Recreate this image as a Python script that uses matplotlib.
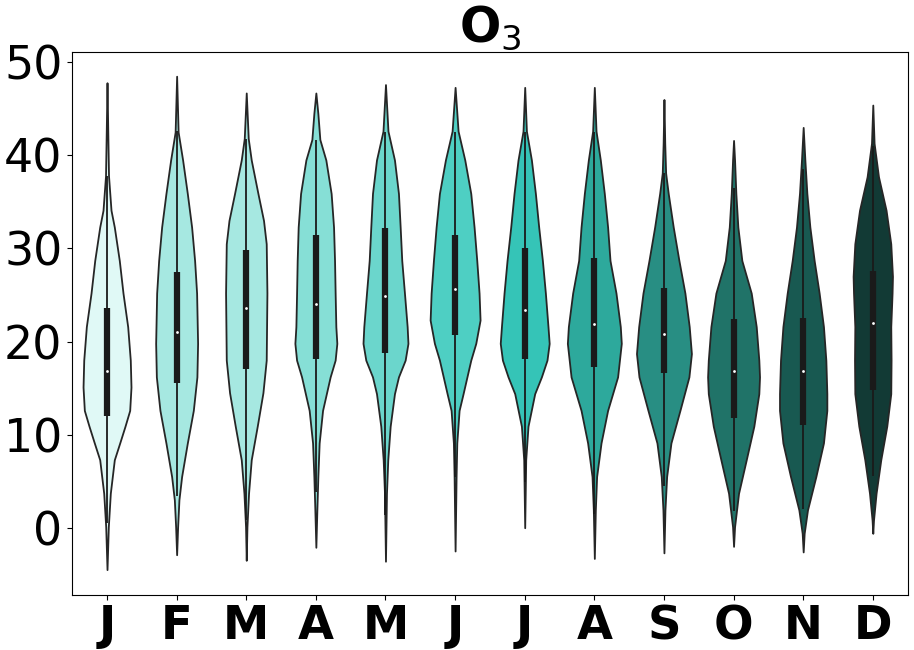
import numpy as np
import matplotlib
matplotlib.use("Agg")
import matplotlib.pyplot as plt

months = ["J", "F", "M", "A", "M", "J", "J", "A", "S", "O", "N", "D"]
colors = ["#e0f9f6", "#a6e8e1", "#a6e8e1", "#86dfd6", "#6bd6cc", "#4ecfc3",
          "#35c4b7", "#2da99c", "#288e83", "#207368", "#185951", "#123a35"]

# O3 levels where the violin outline was read, and half width of the violin there
profile_y = [
    [47.8, 43.0, 37.8, 34.1, 32.3, 28.7, 25.2, 21.6, 18.0, 15.1, 12.6, 10.9, 9.1, 7.3, 3.7, 0.1, -4.5],
    [48.5, 42.5, 39.5, 35.9, 32.3, 28.7, 25.2, 19.8, 16.2, 12.6, 9.1, 5.5, 3.0, 0.1, -2.9],
    [46.7, 41.8, 39.5, 35.9, 33.0, 30.5, 25.2, 18.0, 14.5, 10.9, 7.3, 3.7, 0.1, -3.5],
    [46.7, 44.5, 41.7, 39.5, 35.9, 32.3, 28.7, 25.2, 21.6, 19.8, 18.0, 16.2, 12.6, 9.1, 5.5, 1.9, -2.1],
    [47.6, 42.6, 39.5, 35.9, 32.3, 28.7, 25.2, 21.6, 19.8, 18.0, 16.2, 14.4, 10.9, 7.3, 3.7, -3.6],
    [47.3, 42.6, 39.5, 35.9, 32.3, 28.7, 25.2, 22.3, 19.8, 18.0, 14.4, 12.6, 9.1, 5.5, -2.5],
    [47.3, 42.6, 39.5, 35.9, 32.3, 28.7, 25.2, 21.6, 19.8, 18.0, 16.2, 14.4, 10.9, 7.3, 0.0],
    [47.3, 42.6, 39.5, 35.9, 32.3, 28.7, 25.2, 21.6, 19.8, 16.2, 12.6, 9.1, 5.5, 1.9, -3.3],
    [46.0, 41.3, 38.1, 35.9, 32.3, 28.7, 25.2, 21.6, 18.7, 16.2, 12.6, 9.1, 5.5, 1.9, -2.7],
    [41.6, 39.5, 35.9, 32.3, 28.7, 25.2, 21.6, 18.0, 16.2, 14.4, 10.9, 7.3, 3.7, 0.1, -2.0],
    [43.0, 39.5, 35.9, 32.3, 28.7, 25.2, 21.6, 18.0, 14.4, 12.6, 9.1, 5.5, 1.9, -0.6, -2.6],
    [45.4, 41.3, 37.7, 34.1, 30.5, 27.0, 25.2, 21.6, 18.0, 14.4, 10.9, 7.3, 3.7, 0.8, -0.6],
]
profile_w = [
    [0, 0.7, 1.5, 4, 7.3, 12.3, 16, 20.7, 23.3, 24, 22.7, 18, 12.7, 7.3, 3.3, 1.3, 0],
    [0, 1.5, 6, 10.7, 15, 18, 20, 21, 20.3, 16.7, 10.7, 5, 2.3, 1, 0],
    [0, 2, 5, 11.7, 17.3, 20, 20.7, 20, 16.7, 11, 5, 2.3, 0.7, 0],
    [0, 2, 4, 10, 15.3, 17.7, 18.7, 19.3, 20, 21, 19.3, 14.3, 6.7, 3.3, 2, 1, 0],
    [0, 2.5, 9, 13, 14.7, 16.3, 19, 21.7, 22.5, 19.7, 13, 9, 4.7, 2.3, 1, 0],
    [0, 3, 9.7, 15.7, 19, 21.7, 24, 25, 20.7, 15.7, 8, 4, 1.7, 1, 0],
    [0, 1.7, 6.7, 10.7, 14, 17.7, 20.7, 23.3, 24.5, 22.3, 16.7, 10, 3.3, 1, 0],
    [0, 1.7, 6, 10, 13.3, 15.7, 21.7, 26, 27, 23.3, 13.3, 6.7, 2.3, 1, 0],
    [0, 0.8, 1.7, 4.3, 9.3, 15, 21, 25.3, 27.5, 25, 16, 7, 2.7, 1, 0],
    [0, 1, 2.3, 4.3, 8.3, 17.7, 22.7, 25.3, 26, 25.3, 20.3, 12.7, 5, 1, 0],
    [0, 1.7, 3.7, 6.7, 11, 16, 20.3, 22.7, 23.7, 23.7, 20.3, 12.7, 4.3, 1, 0],
    [0, 1.3, 5.7, 13.3, 18, 19.7, 19.3, 18, 18.3, 18, 14, 8, 3.3, 0.7, 0],
]

q1 = [12.0, 15.5, 17.0, 18.1, 18.8, 20.7, 18.1, 17.3, 16.6, 11.8, 11.0, 14.8]
medians = [16.8, 21.0, 23.6, 24.0, 24.9, 25.6, 23.4, 21.9, 20.8, 16.8, 16.8, 22.0]
q3 = [23.6, 27.5, 29.8, 31.4, 32.2, 31.4, 30.0, 29.0, 25.8, 22.4, 22.5, 27.6]
whis_lo = [0.5, 3.4, 0.8, 3.8, 1.4, 5.5, 4.9, 1.5, 4.5, 1.8, 2.0, 5.6]
whis_hi = [37.8, 42.6, 41.8, 41.7, 42.5, 42.5, 42.5, 42.5, 38.1, 36.5, 38.5, 41.0]

fig = plt.figure(figsize=(9.14, 6.5), dpi=100)
ax = fig.add_axes([0.079, 0.085, 0.914, 0.835])

pos = np.arange(len(months))
px_per_unit = 69.7  # pixels per category step, used to turn read widths into data units

stats = []
widths = []
for i in range(len(months)):
    y = np.array(profile_y[i], dtype=float)
    w = np.array(profile_w[i], dtype=float)
    stats.append(dict(coords=y, vals=w, mean=medians[i], median=medians[i],
                      min=y.min(), max=y.max()))
    widths.append(2 * w.max() / px_per_unit)

parts = ax.violin(stats, positions=pos, widths=widths,
                  showmeans=False, showextrema=False, showmedians=False)
for body, c in zip(parts["bodies"], colors):
    body.set_facecolor(c)
    body.set_edgecolor("#262626")
    body.set_linewidth(1.3)
    body.set_alpha(1)
    body.set_joinstyle("round")

ax.vlines(pos, whis_lo, whis_hi, color="#1a1a1a", lw=1.3, zorder=3)
ax.vlines(pos, q1, q3, color="#1a1a1a", lw=4.5, zorder=3)
ax.scatter(pos, medians, s=4, color="white", linewidths=0, zorder=4)

ax.set_xlim(-0.5, 11.5)
ax.set_ylim(-7.2, 51.1)
ax.set_yticks([0, 10, 20, 30, 40, 50])
ax.set_xticks(pos)
ax.set_xticklabels(months, fontsize=33.5, fontweight="bold")
ax.tick_params(axis="y", labelsize=33)
ax.set_title("O$_3$", fontsize=35, fontweight="bold")

fig.savefig("out.png", dpi=100)
